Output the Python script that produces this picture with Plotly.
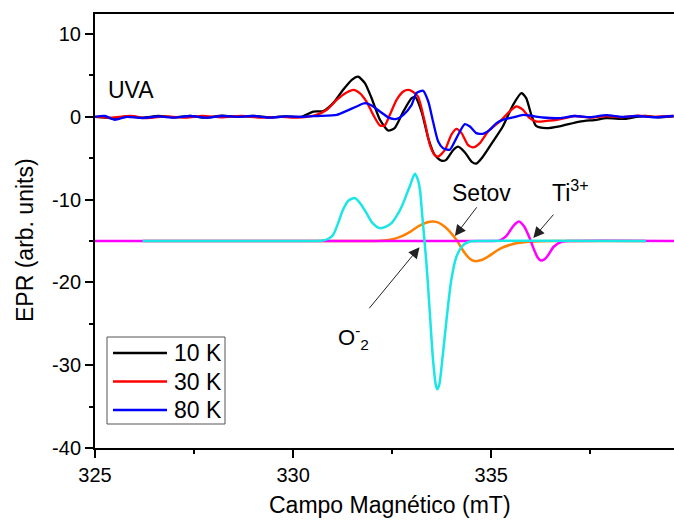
import plotly.graph_objects as go

# ---- experimental spectra (UVA) ----
b10 = [325.0, 325.3, 325.5, 325.8, 326.2, 326.6, 327.0, 327.4, 327.8, 328.2, 328.6, 329.0, 329.4, 329.8, 330.2,
       330.51, 330.76, 331.01, 331.26, 331.48, 331.64, 331.81, 331.98, 332.19, 332.4, 332.56, 332.78, 332.99,
       333.08, 333.24, 333.41, 333.57, 333.74, 333.86, 334.04, 334.16, 334.33, 334.5, 334.62, 334.79, 335.04,
       335.29, 335.55, 335.76, 335.88, 336.01, 336.13, 336.39, 336.72, 337.23, 337.65, 337.9, 338.4, 338.66,
       338.9, 339.2, 339.6]
v10 = [0.0, -0.1, -0.25, 0.05, -0.1, 0.1, -0.05, 0.1, -0.1, 0.15, 0.0, 0.1, -0.05, 0.05, 0.0,
       0.64, 0.7, 1.65, 3.26, 4.47, 4.85, 4.07, 2.25, -0.36, -1.65, -1.37, 0.64, 2.25,
       2.4, 0.64, -2.6, -4.6, -5.3, -5.2, -4.0, -3.6, -4.27, -5.4, -5.65, -4.8, -3.0,
       -1.17, 1.45, 2.86, 2.25, 0.24, -1.1, -1.37, -1.15, -0.57, -0.36, -0.16, -0.24, 0.0,
       0.1, -0.05, 0.05]

b30 = [325.0, 325.4, 325.9, 326.3, 326.8, 327.3, 327.7, 328.2, 328.7, 329.2, 329.7, 330.1, 330.35,
       330.59, 330.85, 331.1, 331.35, 331.52, 331.68, 331.85, 332.02, 332.19, 332.31, 332.44, 332.61, 332.78,
       332.9, 333.0, 333.15, 333.32, 333.45, 333.57, 333.66, 333.83, 333.99, 334.12, 334.25, 334.41, 334.54,
       334.71, 334.92, 335.21, 335.46, 335.63, 335.8, 335.97, 336.14, 336.39, 336.72, 337.1, 337.5, 337.9,
       338.3, 338.7, 339.1, 339.6]
v30 = [0.0, -0.1, 0.1, -0.15, 0.05, -0.1, 0.1, -0.05, 0.1, -0.1, 0.0, -0.1, 0.0,
       0.24, 0.85, 2.05, 2.94, 3.26, 2.86, 1.85, 0.24, -1.05, -1.05, 0.24, 2.05, 3.06,
       3.26, 3.1, 2.45, -0.57, -3.38, -4.6, -4.8, -4.0, -2.17, -1.45, -1.97, -3.38, -3.7,
       -3.18, -1.77, -0.57, 0.64, 1.25, 0.85, -0.16, -0.57, -0.5, -0.3, 0.1, -0.1, 0.1,
       -0.05, 0.15, 0.0, 0.1]

b80 = [325.0, 325.25, 325.5, 325.8, 326.2, 326.6, 327.0, 327.4, 327.8, 328.2, 328.6, 329.0, 329.4, 329.8,
       330.2, 330.6, 331.1, 331.35, 331.6, 331.81, 331.98, 332.19, 332.44, 332.61, 332.78, 332.99, 333.11,
       333.28, 333.41, 333.53, 333.66, 333.78, 333.95, 334.12, 334.33, 334.46, 334.62, 334.79, 334.96,
       335.13, 335.29, 335.55, 335.8, 335.97, 336.3, 336.72, 337.1, 337.5, 337.9, 338.3, 338.7, 339.1, 339.6]
v80 = [0.0, 0.1, -0.35, 0.0, -0.15, 0.05, -0.1, 0.1, -0.1, 0.1, 0.0, 0.1, -0.1, 0.05,
       0.0, 0.1, 0.24, 0.72, 1.25, 1.65, 1.37, 0.64, -0.16, -0.24, 0.24, 1.45, 2.86,
       3.14, 1.85, -0.57, -2.98, -3.78, -3.98, -2.57, -0.88, -1.17, -1.97, -2.05, -1.57,
       -0.76, -0.36, -0.08, 0.24, 0.16, -0.08, -0.16, 0.1, -0.05, 0.2, 0.0, 0.1, -0.05, 0.1]

# ---- simulated components ----
b_o2 = [326.2, 330.5, 330.75, 330.9, 331.01, 331.13, 331.26, 331.4, 331.56, 331.7, 331.85, 332.0, 332.19,
        332.33, 332.48, 332.62, 332.74, 332.86, 332.94, 333.07, 333.14, 333.2, 333.25, 333.3, 333.36, 333.43,
        333.53, 333.6, 333.64, 333.69, 333.76, 333.87, 333.99, 334.12, 334.29, 334.46, 334.7, 338.9]
v_o2 = [-15.0, -15.0, -14.95, -14.7, -14.25, -12.9, -11.2, -10.1, -9.82, -10.5, -11.63, -12.8, -13.44,
        -13.3, -12.84, -11.9, -10.83, -9.4, -8.42, -6.88, -7.5, -8.8, -11.5, -14.2, -17.5, -22.3,
        -29.35, -32.4, -32.9, -32.3, -29.5, -24.5, -19.7, -16.9, -15.5, -15.06, -15.0, -15.0]

b_setov = [326.2, 331.9, 332.2, 332.45, 332.73, 332.95, 333.15, 333.35, 333.53, 333.68, 333.82, 333.97,
           334.12, 334.33, 334.45, 334.58, 334.75, 334.92, 335.25, 335.66, 336.08, 336.6, 338.9]
v_setov = [-15.0, -15.0, -14.97, -14.85, -14.45, -13.9, -13.25, -12.8, -12.64, -12.8, -13.25, -13.95,
           -14.86, -16.46, -17.1, -17.42, -17.3, -16.87, -15.86, -15.25, -15.06, -15.0, -15.0]

b_ti = [325.0, 335.0, 335.2, 335.37, 335.48, 335.58, 335.7, 335.83, 335.95, 336.08, 336.17, 336.25, 336.33,
        336.41, 336.58, 336.79, 337.0, 339.61]
v_ti = [-15.0, -15.0, -14.95, -14.45, -13.7, -13.04, -12.64, -13.25, -14.45, -16.06, -17.0, -17.36, -17.25,
        -16.87, -15.66, -15.06, -15.0, -15.0]

legend_names = ["10 K", "30 K", "80 K"]
x_ticks = [325, 330, 335]
y_ticks = [10, 0, -10, -20, -30, -40]

FONT = "Liberation Sans, Arial, sans-serif"
W, H = 674, 520
ML, MR, MT, MB = 95, 0, 14, 72

fig = go.Figure()
for xs, ys, col in [(b_setov, v_setov, "#ff8000"), (b_ti, v_ti, "#ff00ff"), (b_o2, v_o2, "#1ae6e6")]:
    fig.add_trace(go.Scatter(x=xs, y=ys, mode="lines", line=dict(color=col, width=2.5, shape="spline", smoothing=0.7),
                             showlegend=False, hoverinfo="skip"))
exp_cols = ["#000000", "#ff0000", "#0000ff"]
for xs, ys, col in [(b10, v10, exp_cols[0]), (b30, v30, exp_cols[1]), (b80, v80, exp_cols[2])]:
    fig.add_trace(go.Scatter(x=xs, y=ys, mode="lines", line=dict(color=col, width=2.3, shape="spline", smoothing=0.6),
                             showlegend=False, hoverinfo="skip"))

pw = W - ML - MR
ph = H - MT - MB
def px2paper_x(px): return (px - ML) / pw
def px2paper_y(py): return (H - MB - py) / ph

shapes = []
annotations = []
# custom legend
shapes.append(dict(type="rect", xref="paper", yref="paper",
                   x0=px2paper_x(107), x1=px2paper_x(225), y0=px2paper_y(424), y1=px2paper_y(337),
                   line=dict(color="#555555", width=1), fillcolor="white"))
for i, (name, col) in enumerate(zip(legend_names, exp_cols)):
    yy = px2paper_y(353 + i * 28.5)
    shapes.append(dict(type="line", xref="paper", yref="paper", x0=px2paper_x(113), x1=px2paper_x(167),
                       y0=yy, y1=yy, line=dict(color=col, width=2.5)))
    annotations.append(dict(text=name, xref="paper", yref="paper", x=px2paper_x(172), y=yy,
                            xanchor="left", yanchor="middle", showarrow=False,
                            font=dict(size=23, color="black", family=FONT)))

# arrows
for (tx, ty, sx, sy) in [(334.08, -14.4, 334.66, -10.75), (336.06, -14.65, 336.6, -11.63), (333.19, -15.74, 331.89, -23.3)]:
    annotations.append(dict(x=tx, y=ty, ax=sx, ay=sy, xref="x", yref="y", axref="x", ayref="y", text="",
                            showarrow=True, arrowhead=2, arrowsize=2.2, arrowwidth=1, arrowcolor="#222222"))

# labels
annotations += [
    dict(text="UVA", x=325.29, y=3.3, xref="x", yref="y", xanchor="left", yanchor="middle", showarrow=False,
         font=dict(size=23, color="black", family=FONT)),
    dict(text="Setov", x=333.95, y=-9.2, xref="x", yref="y", xanchor="left", yanchor="middle", showarrow=False,
         font=dict(size=23, color="black", family=FONT)),
    dict(text="Ti<sup>3+</sup>", x=336.48, y=-9.0, xref="x", yref="y", xanchor="left", yanchor="middle", showarrow=False,
         font=dict(size=23, color="black", family=FONT)),
    dict(text="O<sup>-</sup><sub>2</sub>", x=331.07, y=-26.6, xref="x", yref="y", xanchor="left", yanchor="middle",
         showarrow=False, font=dict(size=22, color="black", family=FONT)),
    dict(text="Campo Magnético (mT)", x=px2paper_x(390), y=px2paper_y(505), xref="paper", yref="paper",
         xanchor="center", yanchor="middle", showarrow=False, font=dict(size=23, color="black", family=FONT)),
    dict(text="EPR (arb. units)", x=px2paper_x(25), y=px2paper_y(240), xref="paper", yref="paper", textangle=-90,
         xanchor="center", yanchor="middle", showarrow=False, font=dict(size=23, color="black", family=FONT)),
]

fig.update_layout(
    width=W, height=H, margin=dict(l=ML, r=MR, t=MT, b=MB),
    paper_bgcolor="white", plot_bgcolor="white",
    font=dict(family=FONT, color="black"),
    shapes=shapes, annotations=annotations, showlegend=False,
)
fig.update_xaxes(range=[325, 339.61], tickvals=x_ticks, ticktext=[str(t) for t in x_ticks],
                 ticks="outside", ticklen=8, tickwidth=2, tickcolor="black",
                 showline=True, linewidth=2, linecolor="black", mirror=True,
                 showgrid=False, zeroline=False, tickfont=dict(size=20, family=FONT, color="black"),
                 minor=dict(dtick=2.5, tick0=325, ticks="outside", ticklen=4, tickwidth=2, tickcolor="black", showgrid=False))
fig.update_yaxes(range=[-40, 12.42], tickvals=y_ticks, ticktext=[str(t) for t in y_ticks],
                 ticks="outside", ticklen=8, tickwidth=2, tickcolor="black",
                 showline=True, linewidth=2, linecolor="black", mirror=False,
                 showgrid=False, zeroline=False, tickfont=dict(size=20, family=FONT, color="black"),
                 minor=dict(dtick=5, tick0=0, ticks="outside", ticklen=4, tickwidth=2, tickcolor="black", showgrid=False))

fig.write_html("out.html")
